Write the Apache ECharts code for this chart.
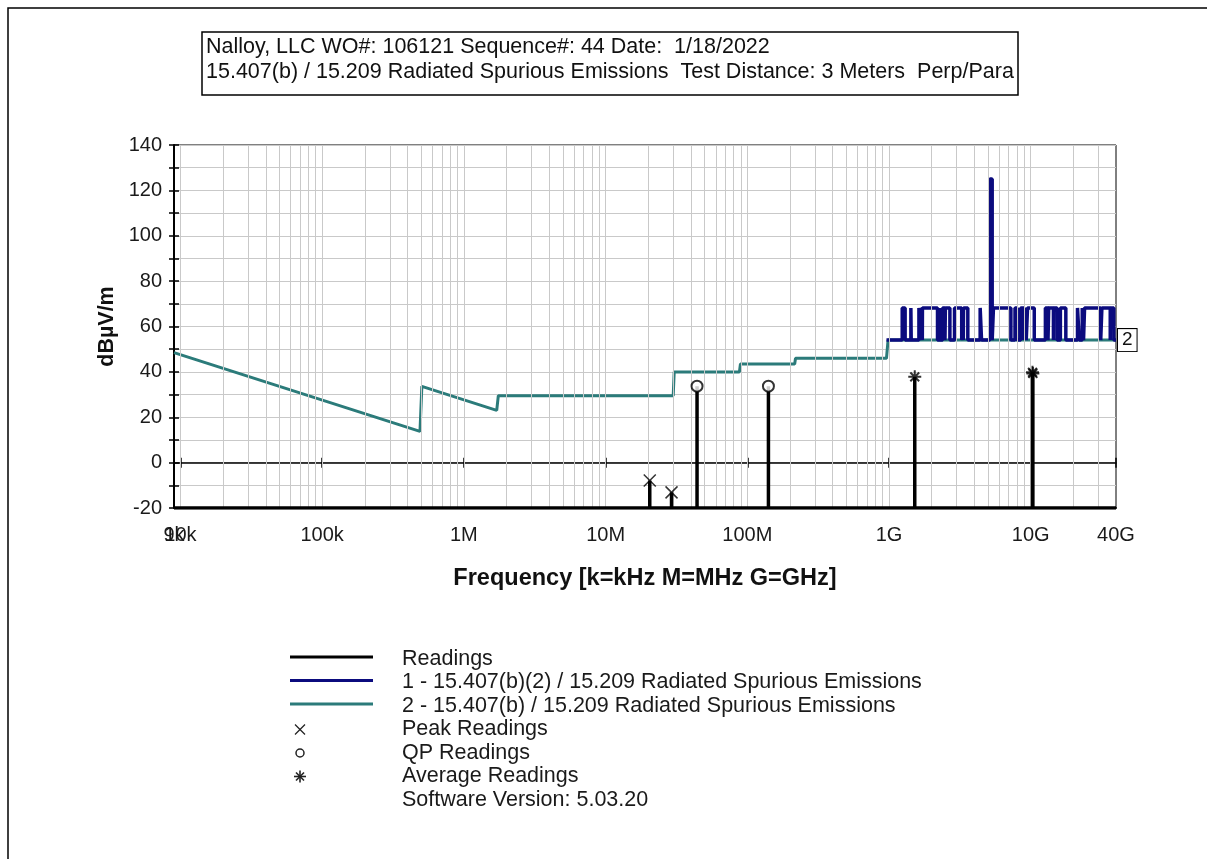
<!DOCTYPE html>
<html><head><meta charset="utf-8">
<script src="https://cdn.jsdelivr.net/npm/echarts@6/dist/echarts.min.js"></script>
<style>html,body{margin:0;padding:0;background:#fff;}#c{width:1207px;height:859px;}</style>
</head><body><div id="c"></div>
<script>
const FONT = '"Liberation Sans", Arial, sans-serif';

const headerLines = [
  'Nalloy, LLC WO#: 106121 Sequence#: 44 Date:  1/18/2022',
  '15.407(b) / 15.209 Radiated Spurious Emissions  Test Distance: 3 Meters  Perp/Para'
];

const xMin = 9000, xMax = 40e9;
const yMin = -20, yMax = 140, yStep = 10;

// grid decades and minor multipliers (log grid lines)
const gridDecades = [1e4, 1e5, 1e6, 1e7, 1e8, 1e9, 1e10];
const gridMultipliers = [1, 2, 3, 4, 5, 6, 7, 8, 9];

// Limit 2 : 15.407(b) / 15.209 (teal)
const limit2Freq = [9000, 490000, 505000, 1705000, 1750000, 30000000, 30500000, 88000000, 89500000, 216000000, 219000000, 960000000, 985000000, 40e9];
const limit2Val  = [48.5, 13.8,   33.6,   23.0,    29.5,    29.5,     40.0,     40.0,     43.5,     43.5,      46.0,      46.0,      54.0,      54.0];

// Limit 1 : 15.407(b)(2) / 15.209 (navy) - step (value holds until next freq)
const limit1Freq = [0.96e9, 1.24e9, 1.3e9, 1.427e9, 1.435e9, 1.6265e9, 1.645e9, 1.6465e9, 1.66e9, 1.71e9, 1.7188e9, 1.7222e9,
  2.2e9, 2.3e9, 2.31e9, 2.39e9, 2.4835e9, 2.5e9, 2.69e9, 2.9e9, 3.26e9, 3.267e9, 3.332e9, 3.339e9, 3.3458e9, 3.358e9,
  3.6e9, 4.4e9, 4.5e9, 5.15e9, 5.35e9, 5.46e9, 7.25e9, 7.75e9, 8.025e9, 8.5e9, 9.0e9, 9.2e9, 9.3e9, 9.5e9,
  10.6e9, 12.7e9, 13.25e9, 13.4e9, 14.47e9, 14.5e9, 15.35e9, 16.2e9, 17.7e9, 21.4e9, 22.01e9, 23.12e9, 23.6e9, 24.0e9,
  31.2e9, 31.8e9, 36.43e9, 36.5e9, 38.6e9, 40e9];
const limit1Val = [54, 68.2, 54, 68.2, 54, 68.2, 54, 68.2, 54, 68.2, 54, 68.2,
  54, 68.2, 54, 68.2, 54, 68.2, 54, 68.2, 54, 68.2, 54, 68.2, 54, 68.2,
  54, 68.2, 54, 125, 54, 68.2, 54, 68.2, 54, 68.2, 54, 68.2, 54, 68.2,
  54, 68.2, 54, 68.2, 54, 68.2, 54, 68.2, 54, 68.2, 54, 68.2, 54, 68.2,
  54, 68.2, 54, 68.2, 54, 54];

// Readings
const peakFreq = [20.5e6, 29.2e6];
const peakVal  = [-7.9, -13.1];
const qpFreq   = [44.2e6, 141e6];
const qpVal    = [33.7, 33.7];
const avgFreq  = [1.52e9, 10.3e9, 10.36e9];
const avgVal   = [37.8, 39.8, 39.3];
const readingFloor = -20;

const legendLabels = [
  'Readings',
  '1 - 15.407(b)(2) / 15.209 Radiated Spurious Emissions',
  '2 - 15.407(b) / 15.209 Radiated Spurious Emissions',
  'Peak Readings',
  'QP Readings',
  'Average Readings',
  'Software Version: 5.03.20'
];

const C_BLACK = '#000000', C_NAVY = '#0b0b7e', C_TEAL = '#2b7b7a';

function pairs(xs, ys) { return xs.map((x, i) => [x, ys[i]]); }

function fmtFreq(v) {
  const r = Number(Number(v).toPrecision(3));
  if (r >= 1e9) return Number((r / 1e9).toPrecision(3)) + 'G';
  if (r >= 1e6) return Number((r / 1e6).toPrecision(3)) + 'M';
  if (r >= 1e3) return Number((r / 1e3).toPrecision(3)) + 'k';
  return String(r);
}

// readings trace: floor with stems
const allReadings = []
  .concat(pairs(peakFreq, peakVal), pairs(qpFreq, qpVal), pairs(avgFreq, avgVal))
  .sort((a, b) => a[0] - b[0]);
const readingsTrace = [[xMin, readingFloor]];
allReadings.forEach(p => { readingsTrace.push([p[0], readingFloor], [p[0], p[1]], [p[0], readingFloor]); });
readingsTrace.push([xMax, readingFloor]);

const gridLineFreqs = [];
gridDecades.forEach(d => gridMultipliers.forEach(m => { const f = d * m; if (f > xMin && f < xMax) gridLineFreqs.push(f); }));

const X_PATH = 'path://M0 0L10 10M10 0L0 10';
const STAR_PATH = 'path://M5 0L5 10M0 5L10 5M1.6 1.6L8.4 8.4M8.4 1.6L1.6 8.4';

const chart = echarts.init(document.getElementById('c'), null, { renderer: 'canvas' });

const gridBox = { left: 174, top: 145, width: 942, height: 363 };

const txt = { fontFamily: FONT, fontSize: 20, color: '#1a1a1a' };
const BIG = 21.5;

// legend graphics
const legendX0 = 290, legendX1 = 373, legendTextX = 402, legendY0 = 659, legendDy = 23.5;
const legendGraphics = [];
legendLabels.forEach((label, i) => {
  const y = legendY0 + i * legendDy;
  legendGraphics.push({ type: 'text', x: legendTextX, y: y, style: { text: label, fontFamily: FONT, fontSize: BIG, fill: '#1a1a1a', verticalAlign: 'middle' } });
});
[C_BLACK, C_NAVY, C_TEAL].forEach((c, i) => {
  const y = legendY0 - 2 + i * legendDy;
  legendGraphics.push({ type: 'line', shape: { x1: legendX0, y1: y, x2: legendX1, y2: y }, style: { stroke: c, lineWidth: 3 } });
});
(function () {
  const cx = 300;
  const y3 = legendY0 + 3 * legendDy, y4 = legendY0 + 4 * legendDy, y5 = legendY0 + 5 * legendDy;
  legendGraphics.push({ type: 'polyline', shape: { points: [[cx - 5, y3 - 5], [cx + 5, y3 + 5]] }, style: { stroke: '#222', lineWidth: 1.3 } });
  legendGraphics.push({ type: 'polyline', shape: { points: [[cx + 5, y3 - 5], [cx - 5, y3 + 5]] }, style: { stroke: '#222', lineWidth: 1.3 } });
  legendGraphics.push({ type: 'circle', shape: { cx: cx, cy: y4, r: 4 }, style: { stroke: '#222', fill: '#fff', lineWidth: 1.5 } });
  [[0, -6, 0, 6], [-6, 0, 6, 0], [-4, -4, 4, 4], [4, -4, -4, 4]].forEach(s => {
    legendGraphics.push({ type: 'line', shape: { x1: cx + s[0], y1: y5 + s[1], x2: cx + s[2], y2: y5 + s[3] }, style: { stroke: '#222', lineWidth: 1.6 } });
  });
})();

const logAxisBase = { type: 'log', logBase: 10, min: xMin, max: xMax, position: 'bottom' };

const option = {
  backgroundColor: '#ffffff',
  animation: false,
  grid: Object.assign({ show: true, borderColor: '#000', borderWidth: 1, backgroundColor: 'transparent' }, gridBox),
  xAxis: [
    Object.assign({}, logAxisBase, {
      axisLine: { show: true, onZero: false, lineStyle: { color: '#000', width: 2 } },
      axisTick: { show: false },
      axisLabel: Object.assign({ formatter: fmtFreq, margin: 17, showMinLabel: false, showMaxLabel: true, hideOverlap: false }, txt),
      splitLine: { show: false }, minorTick: { show: false }, minorSplitLine: { show: false },
      name: 'Frequency [k=kHz M=MHz G=GHz]', nameLocation: 'middle', nameGap: 59,
      nameTextStyle: { fontFamily: FONT, fontSize: 23.5, fontWeight: 'bold', color: '#111' }
    }),
    Object.assign({}, logAxisBase, {
      axisLine: { show: true, onZero: true, onZeroAxisIndex: 0, lineStyle: { color: '#000', width: 1.5 } },
      axisTick: { show: true, inside: true, length: 5, lineStyle: { color: '#000', width: 1.5 } },
      axisLabel: { show: false }, splitLine: { show: false }
    }),
    Object.assign({}, logAxisBase, {
      axisLine: { show: false, onZero: true, onZeroAxisIndex: 0 },
      axisTick: { show: true, inside: false, length: 5, lineStyle: { color: '#000', width: 1.5 } },
      axisLabel: { show: false }, splitLine: { show: false }
    }),
    Object.assign({}, logAxisBase, {
      axisLine: { show: false, onZero: false },
      axisTick: { show: false },
      axisLabel: Object.assign({ margin: 17, showMinLabel: true, showMaxLabel: false, hideOverlap: false,
        formatter: (v, i) => (i === 0 ? fmtFreq(v) : '') }, txt),
      splitLine: { show: false }
    })
  ],
  yAxis: [
    {
      type: 'value', min: yMin, max: yMax, interval: yStep, position: 'left',
      axisLine: { show: true, onZero: false, lineStyle: { color: '#000', width: 2 } },
      axisTick: { show: true, inside: false, length: 5, lineStyle: { color: '#000', width: 1.5 } },
      axisLabel: Object.assign({ margin: 12, formatter: v => (Math.round(v) % 20 === 0 ? String(Math.round(v)) : '') }, txt),
      splitLine: { show: true, lineStyle: { color: '#c9c9c9', width: 1 } },
      name: 'dBµV/m', nameLocation: 'middle', nameGap: 52, nameRotate: 90,
      nameTextStyle: { fontFamily: FONT, fontSize: 21.5, fontWeight: 'bold', color: '#111' }
    },
    {
      type: 'value', min: yMin, max: yMax, interval: yStep, position: 'left',
      axisLine: { show: false, onZero: false },
      axisTick: { show: true, inside: true, length: 5, lineStyle: { color: '#000', width: 1.5 } },
      axisLabel: { show: false }, splitLine: { show: false }
    }
  ],
  series: [
    {
      name: 'grid', type: 'line', xAxisIndex: 0, yAxisIndex: 0, z: 1, silent: true,
      data: [[xMin, yMin]], symbol: 'none', lineStyle: { opacity: 0 },
      markLine: {
        silent: true, symbol: 'none', animation: false, label: { show: false },
        lineStyle: { color: '#c9c9c9', width: 1, type: 'solid' },
        emphasis: { disabled: true },
        data: gridLineFreqs.map(f => ({ xAxis: f }))
      }
    },
    {
      name: legendLabels[2], type: 'line', z: 3, data: pairs(limit2Freq, limit2Val), symbol: 'none',
      lineStyle: { color: C_TEAL, width: 3 }, itemStyle: { color: C_TEAL }, emphasis: { disabled: true },
      endLabel: {
        show: true, formatter: '2', distance: 2, fontFamily: FONT, fontSize: 19, color: '#111',
        backgroundColor: '#fff', borderColor: '#000', borderWidth: 1, padding: [2, 4, 1, 4]
      }
    },
    {
      name: legendLabels[1], type: 'line', z: 4, step: 'end', data: pairs(limit1Freq, limit1Val), symbol: 'none',
      lineStyle: { color: C_NAVY, width: 3.5 }, itemStyle: { color: C_NAVY }, emphasis: { disabled: true }
    },
    {
      name: legendLabels[0], type: 'line', z: 5, data: readingsTrace, symbol: 'none',
      lineStyle: { color: C_BLACK, width: 3.5 }, itemStyle: { color: C_BLACK }, emphasis: { disabled: true }
    },
    {
      name: legendLabels[3], type: 'scatter', z: 6, data: pairs(peakFreq, peakVal), symbol: X_PATH, symbolSize: 12,
      itemStyle: { color: 'transparent', borderColor: '#000', borderWidth: 1.5 }, emphasis: { disabled: true }
    },
    {
      name: legendLabels[4], type: 'scatter', z: 6, data: pairs(qpFreq, qpVal), symbol: 'emptyCircle', symbolSize: 11,
      itemStyle: { color: '#000', borderColor: '#000', borderWidth: 1.5 }, emphasis: { disabled: true }
    },
    {
      name: legendLabels[5], type: 'scatter', z: 6, data: pairs(avgFreq, avgVal), symbol: STAR_PATH, symbolSize: 13,
      itemStyle: { color: 'transparent', borderColor: '#000', borderWidth: 2 }, emphasis: { disabled: true }
    }
  ],
  graphic: [
    { type: 'rect', shape: { x: 8, y: 8, width: 1260, height: 900 }, style: { fill: 'none', stroke: '#000', lineWidth: 1.5 }, z: 0 },
    { type: 'rect', shape: { x: 202, y: 32, width: 816, height: 63 }, style: { fill: 'none', stroke: '#000', lineWidth: 1.5 } },
    { type: 'text', x: 206, y: 47, style: { text: headerLines[0], fontFamily: FONT, fontSize: BIG, fill: '#111', verticalAlign: 'middle' } },
    { type: 'text', x: 206, y: 72, style: { text: headerLines[1], fontFamily: FONT, fontSize: BIG, fill: '#111', verticalAlign: 'middle' } }
  ].concat(legendGraphics)
};

chart.setOption(option);
</script>
</body></html>
